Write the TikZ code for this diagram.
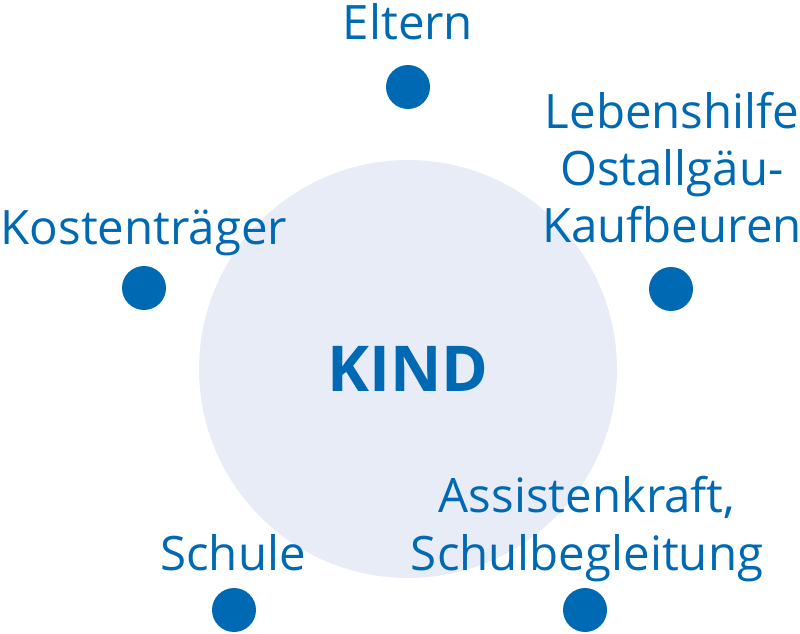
\documentclass[tikz,border=0pt]{standalone}
\usepackage{fontspec}
\setmainfont{Open Sans}
\usepackage{tikz}
\definecolor{kblue}{HTML}{0069B4}
\definecolor{kfill}{HTML}{E8ECF7}
\tikzset{
 dot/.style={circle,fill=kblue,inner sep=0pt,minimum size=0.88cm},
 lbl/.style={text=kblue,align=center,anchor=base,inner sep=0pt,
  font=\fontsize{27}{32.5}\selectfont}
}
\begin{document}
\begin{tikzpicture}[x=0.02cm,y=-0.02cm]
 \useasboundingbox (0,0) rectangle (800,634);
 \node[circle,fill=kfill,inner sep=0pt,minimum size=8.36cm] (kind) at (408,369) {};
 \node[text=kblue,font=\fontsize{36}{43}\selectfont\bfseries] (kind-t) at (kind) {KIND};
 % Beteiligte
 \node[dot] (eltern) at (408,87) {};
 \node[dot] (lebenshilfe) at (671,289) {};
 \node[dot] (kosten) at (144,288) {};
 \node[dot] (schule) at (234,610) {};
 \node[dot] (assistenz) at (585,610) {};
 % Beschriftungen (base = letzte Zeile)
 \node[lbl] (eltern-t) at (408,40) {Eltern};
 \node[lbl] (lebenshilfe-t) at (672,243) {Lebenshilfe\\Ostallgäu-\\Kaufbeuren};
 \node[lbl] (kosten-t) at (144,245) {Kostenträger};
 \node[lbl] (schule-t) at (233,570) {Schule};
 \node[lbl] (assistenz-t) at (587,570) {Assistenkraft,\\Schulbegleitung};
\end{tikzpicture}
\end{document}
